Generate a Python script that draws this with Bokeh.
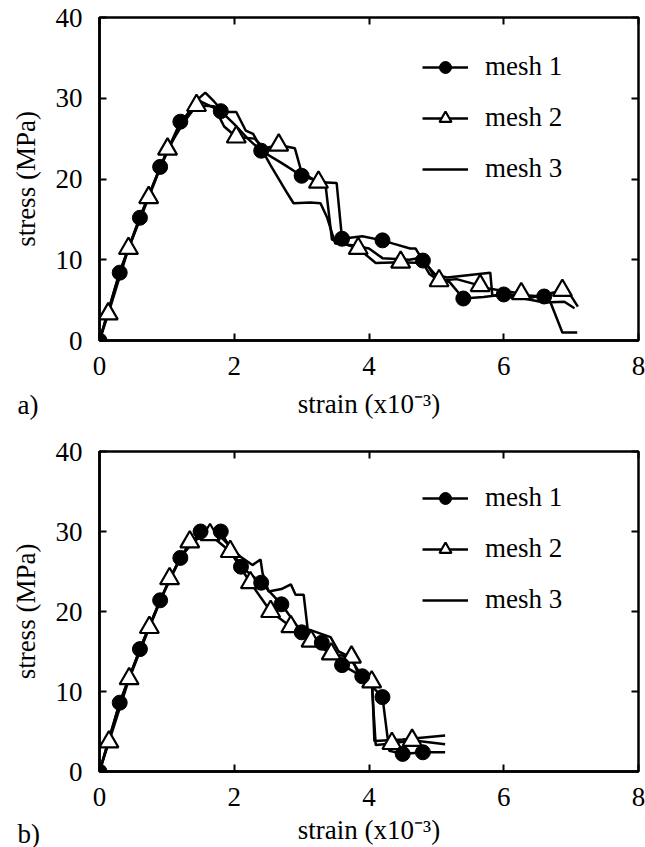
from bokeh.plotting import figure
from bokeh.models import Range1d, LinearAxis, FixedTicker, Legend, LegendItem, Title
from bokeh.layouts import column
from bokeh.embed import file_html
from bokeh.resources import INLINE

FONT = "'Liberation Serif', 'Times New Roman', serif"

x_ticks = [0, 2, 4, 6, 8]
y_ticks = [0, 10, 20, 30, 40]
series_names = ["mesh 1", "mesh 2", "mesh 3"]
panel_tags = ["a)", "b)"]
x_label = "strain (x10\u207b\u00b3)"
y_label = "stress (MPa)"

# ---------------- panel a ----------------
a_m1_x = [0, 0.3, 0.6, 0.9, 1.2, 1.5, 1.8, 2.0, 2.2, 2.4, 2.7, 3.0, 3.3, 3.52, 3.6, 3.9, 4.2, 4.36, 4.61, 4.69, 4.8, 5.0, 5.2, 5.4, 5.7, 6.0, 6.3, 6.6, 6.69, 6.87, 7.09]
a_m1_y = [0, 8.4, 15.2, 21.5, 27.1, 29.6, 28.4, 26.8, 25.0, 23.5, 22.0, 20.4, 19.6, 19.5, 12.6, 12.9, 12.4, 12.0, 11.4, 11.4, 9.9, 8.0, 7.2, 5.2, 5.4, 5.7, 5.6, 5.45, 4.8, 1.0, 1.0]
a_m1_mx = [0, 0.3, 0.6, 0.9, 1.2, 1.8, 2.4, 3.0, 3.6, 4.2, 4.8, 5.4, 6.0, 6.6]
a_m1_my = [0, 8.4, 15.2, 21.5, 27.1, 28.4, 23.5, 20.4, 12.6, 12.4, 9.9, 5.2, 5.7, 5.45]

a_m2_x = [0, 0.13, 0.43, 0.73, 1.01, 1.25, 1.44, 1.7, 1.85, 2.03, 2.3, 2.45, 2.66, 2.9, 3.0, 3.25, 3.35, 3.45, 3.84, 4.1, 4.47, 4.8, 4.9, 5.04, 5.3, 5.65, 5.8, 6.26, 6.4, 6.87, 7.0, 7.1]
a_m2_y = [0, 3.3, 11.4, 17.7, 23.7, 27.0, 29.1, 29.0, 26.5, 25.2, 25.0, 23.8, 24.2, 23.8, 20.8, 19.6, 19.6, 12.5, 11.4, 9.6, 9.7, 9.6, 8.2, 7.4, 7.6, 6.8, 6.4, 5.8, 5.3, 6.2, 5.5, 4.2]
a_m2_mx = [0.13, 0.43, 0.73, 1.01, 1.44, 2.03, 2.66, 3.25, 3.84, 4.47, 5.04, 5.65, 6.26, 6.87]
a_m2_my = [3.3, 11.4, 17.7, 23.7, 29.1, 25.2, 24.2, 19.6, 11.4, 9.7, 7.4, 6.8, 5.8, 6.2]

a_m3_x = [0, 0.3, 0.6, 0.9, 1.2, 1.45, 1.57, 1.7, 1.84, 2.03, 2.17, 2.28, 2.54, 2.79, 2.88, 3.13, 3.28, 3.38, 3.5, 3.75, 4.0, 4.2, 4.6, 4.8, 4.95, 5.16, 5.8, 5.83, 6.3, 6.6, 6.9, 7.05]
a_m3_y = [0, 8.5, 15.3, 21.4, 26.8, 29.8, 30.7, 29.6, 28.3, 28.3, 26.0, 25.6, 21.7, 18.2, 17.0, 17.1, 17.0, 15.2, 12.0, 11.8, 11.4, 10.2, 10.0, 10.3, 8.2, 7.8, 8.4, 5.6, 5.2, 4.7, 4.8, 4.0]

# ---------------- panel b ----------------
b_m1_x = [0, 0.3, 0.6, 0.9, 1.2, 1.5, 1.8, 2.1, 2.4, 2.7, 3.0, 3.3, 3.6, 3.9, 4.2, 4.3, 4.5, 4.8, 5.13]
b_m1_y = [0, 8.6, 15.3, 21.4, 26.7, 30.0, 30.0, 25.6, 23.6, 20.9, 17.4, 16.1, 13.3, 11.9, 9.3, 2.6, 2.2, 2.4, 2.4]
b_m1_mx = [0, 0.3, 0.6, 0.9, 1.2, 1.5, 1.8, 2.1, 2.4, 2.7, 3.0, 3.3, 3.6, 3.9, 4.2, 4.5, 4.8]
b_m1_my = [0, 8.6, 15.3, 21.4, 26.7, 30.0, 30.0, 25.6, 23.6, 20.9, 17.4, 16.1, 13.3, 11.9, 9.3, 2.2, 2.4]

b_m2_x = [0, 0.14, 0.44, 0.74, 1.04, 1.34, 1.64, 1.94, 2.24, 2.54, 2.84, 3.14, 3.44, 3.74, 3.85, 4.04, 4.1, 4.34, 4.64, 5.13]
b_m2_y = [0, 3.7, 11.6, 18.0, 24.1, 28.7, 29.6, 27.5, 23.6, 20.0, 18.1, 16.3, 14.7, 14.3, 12.0, 11.2, 3.3, 3.5, 3.9, 3.4]
b_m2_mx = [0.14, 0.44, 0.74, 1.04, 1.34, 1.64, 1.94, 2.24, 2.54, 2.84, 3.14, 3.44, 3.74, 4.04, 4.34, 4.64]
b_m2_my = [3.7, 11.6, 18.0, 24.1, 28.7, 29.6, 27.5, 23.6, 20.0, 18.1, 16.3, 14.7, 14.3, 11.2, 3.5, 3.9]

b_m3_x = [0, 0.3, 0.6, 0.9, 1.2, 1.5, 1.75, 1.95, 2.1, 2.27, 2.39, 2.42, 2.51, 2.7, 2.84, 2.91, 3.03, 3.09, 3.43, 3.55, 3.7, 3.85, 3.95, 4.05, 4.08, 4.5, 5.13]
b_m3_y = [0, 8.6, 15.3, 21.4, 26.8, 29.8, 29.8, 28.0, 26.8, 25.8, 26.5, 24.8, 22.5, 22.8, 23.4, 22.1, 22.1, 17.8, 16.8, 15.0, 14.4, 12.5, 12.0, 10.5, 3.8, 4.0, 4.5]


def make_panel(height, top, bottom, lines, tick_standoff, label_standoff, tag, tag_standoff):
    (m1x, m1y, m1mx, m1my, m2x, m2y, m2mx, m2my, m3x, m3y) = lines
    p = figure(width=645, height=height, x_range=Range1d(0, 8), y_range=Range1d(0, 40),
               output_backend="svg", toolbar_location=None,
               min_border_left=99, min_border_right=7,
               min_border_top=top, min_border_bottom=bottom)
    p.grid.visible = False
    p.background_fill_color = "white"
    p.border_fill_color = "white"
    p.outline_line_color = "black"
    p.outline_line_width = 2.5

    for ax, ticks in ((p.xaxis[0], x_ticks), (p.yaxis[0], y_ticks)):
        ax.ticker = FixedTicker(ticks=ticks)
        ax.major_tick_in = 7
        ax.major_tick_out = 0
        ax.minor_tick_line_color = None
        ax.major_tick_line_width = 2
        ax.axis_line_width = 2.5
        ax.major_label_text_font = FONT
        ax.major_label_text_font_size = "27px"
        ax.major_label_text_color = "black"
        ax.axis_label_text_font = FONT
        ax.axis_label_text_font_size = "27px"
        ax.axis_label_text_font_style = "normal"
        ax.axis_label_text_color = "black"
    p.xaxis[0].axis_label = x_label
    p.xaxis[0].major_label_standoff = tick_standoff
    p.xaxis[0].axis_label_standoff = label_standoff
    p.yaxis[0].axis_label = y_label
    p.yaxis[0].major_label_standoff = 17
    p.yaxis[0].axis_label_standoff = 12

    for loc, ticks in (("above", x_ticks), ("right", y_ticks)):
        ax = LinearAxis(ticker=FixedTicker(ticks=ticks))
        ax.major_tick_in = 7
        ax.major_tick_out = 0
        ax.major_tick_line_width = 2
        ax.minor_tick_line_color = None
        ax.major_label_overrides = {t: "" for t in ticks}
        ax.major_label_text_font_size = "8px"
        ax.major_label_standoff = 0
        ax.axis_line_color = None
        p.add_layout(ax, loc)

    r3 = p.line(m3x, m3y, line_color="black", line_width=2.5)
    r2 = p.line(m2x, m2y, line_color="black", line_width=2.5)
    r1 = p.line(m1x, m1y, line_color="black", line_width=2.5)
    s2 = p.scatter(m2mx, m2my, marker="triangle", size=19, fill_color="white",
                   line_color="black", line_width=2.2)
    s1 = p.scatter(m1mx, m1my, marker="circle", size=15, fill_color="black",
                   line_color="black")

    legend = Legend(items=[LegendItem(label=series_names[0], renderers=[r1, s1]),
                           LegendItem(label=series_names[1], renderers=[r2, s2]),
                           LegendItem(label=series_names[2], renderers=[r3])],
                    location=(323, 156), padding=0, margin=0,
                    border_line_color=None, background_fill_alpha=0,
                    glyph_width=46, glyph_height=30, label_height=30,
                    label_standoff=17, spacing=20,
                    label_text_font=FONT, label_text_font_size="27px",
                    label_text_color="black")
    p.add_layout(legend, "center")

    # panel tag: a title under the axis, pulled up level with the axis label
    p.add_layout(Title(text=tag, align="left", vertical_align="top", offset=-82,
                       standoff=tag_standoff, text_font=FONT, text_font_size="27px",
                       text_font_style="normal", text_color="black"), "below")
    return p


pa = make_panel(431, 17, 91,
                (a_m1_x, a_m1_y, a_m1_mx, a_m1_my, a_m2_x, a_m2_y, a_m2_mx, a_m2_my, a_m3_x, a_m3_y),
                16, 11, panel_tags[0], -64)
pb = make_panel(416, 20, 74,
                (b_m1_x, b_m1_y, b_m1_mx, b_m1_my, b_m2_x, b_m2_y, b_m2_mx, b_m2_my, b_m3_x, b_m3_y),
                16, 6, panel_tags[1], -58)

layout = column(pa, pb, spacing=0)
open("out.html", "w").write(file_html(layout, INLINE))
